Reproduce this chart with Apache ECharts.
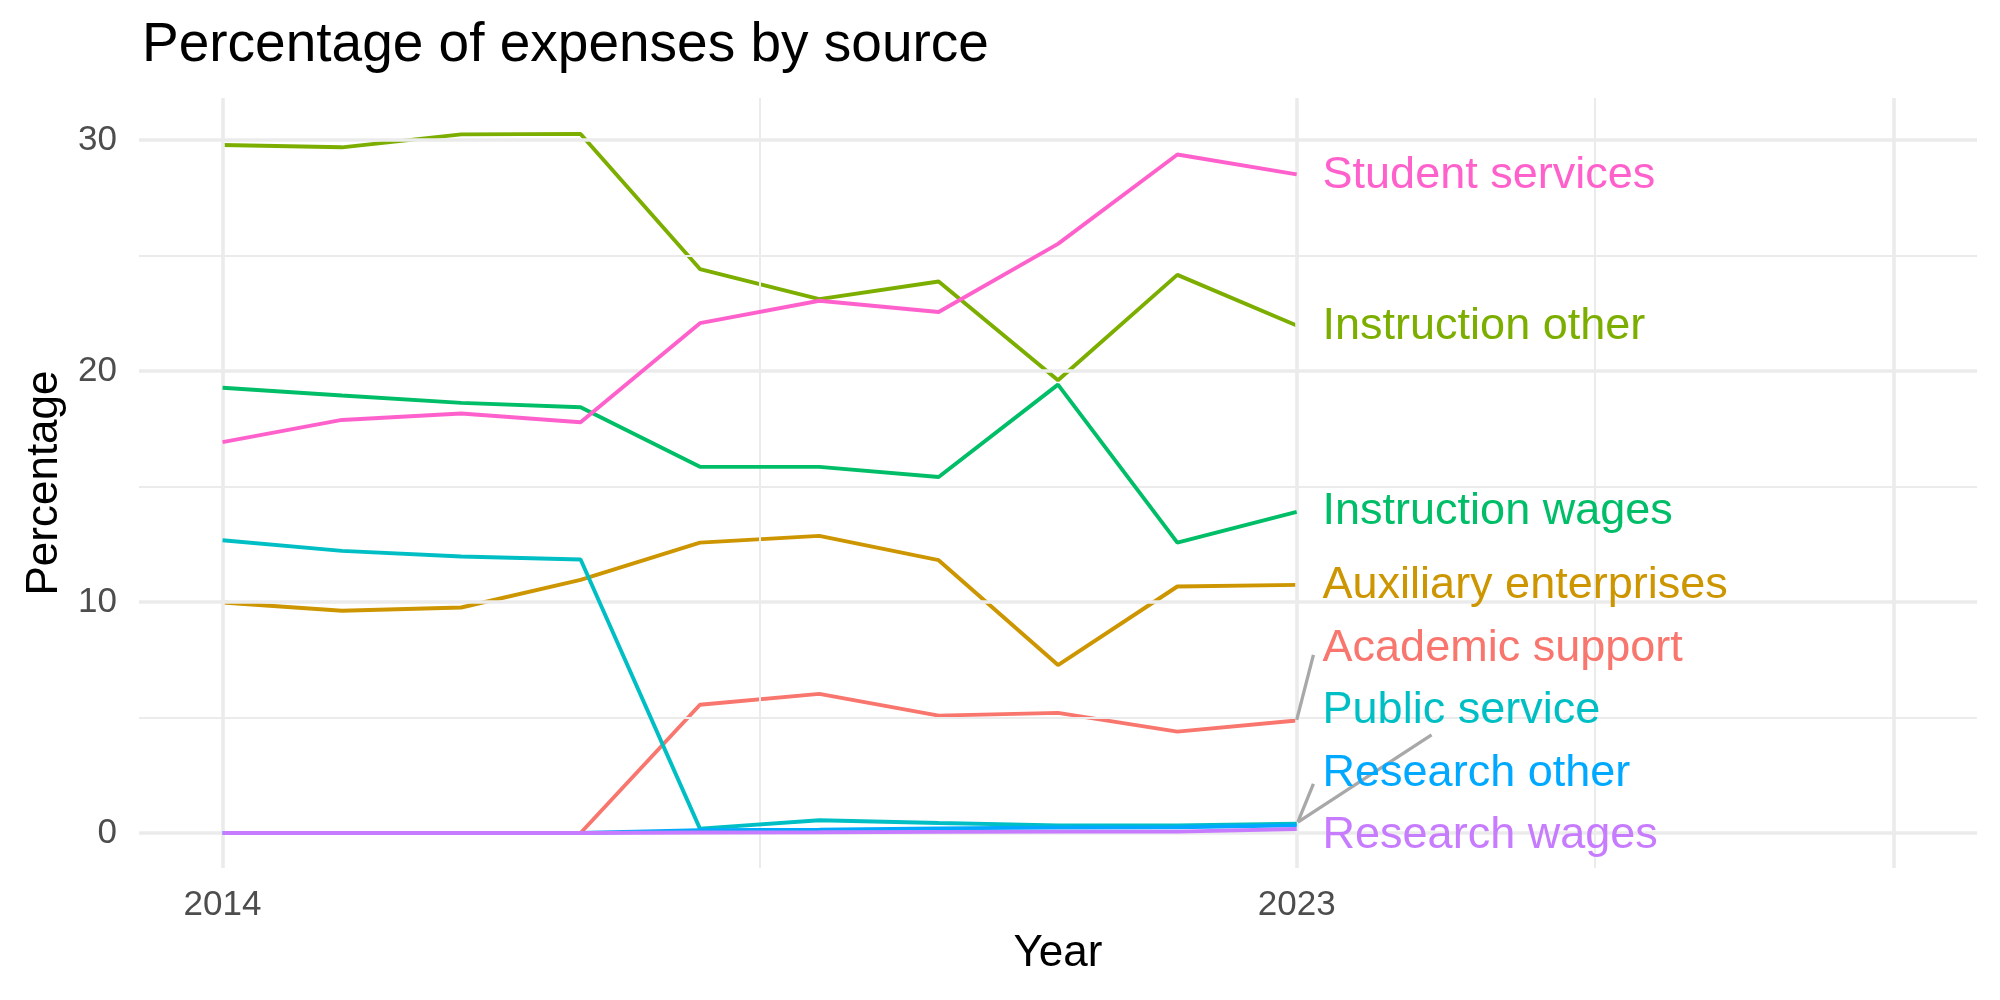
<!DOCTYPE html>
<html>
<head>
<meta charset="utf-8">
<script src="https://cdn.jsdelivr.net/npm/echarts@6/dist/echarts.min.js"></script>
<style>html,body{margin:0;padding:0;background:#fff}#c{width:2000px;height:1000px}</style>
</head>
<body>
<div id="c"></div>
<script>
const years = [2014, 2015, 2016, 2017, 2018, 2019, 2020, 2021, 2022, 2023];
const seriesNames = ['Academic support', 'Auxiliary enterprises', 'Instruction other', 'Instruction wages', 'Public service', 'Research other', 'Research wages', 'Student services'];
const academicSupport      = [0, 0, 0, 0, 5.55, 6.02, 5.08, 5.20, 4.39, 4.87];
const auxiliaryEnterprises = [9.98, 9.62, 9.76, 10.96, 12.57, 12.86, 11.81, 7.27, 10.67, 10.74];
const instructionOther     = [29.78, 29.68, 30.24, 30.26, 24.41, 23.11, 23.87, 19.60, 24.16, 21.97];
const instructionWages     = [19.27, 18.94, 18.62, 18.43, 15.85, 15.85, 15.41, 19.41, 12.57, 13.90];
const publicService        = [12.67, 12.21, 11.97, 11.84, 0.19, 0.55, 0.43, 0.33, 0.33, 0.40];
const researchOther        = [0, 0, 0, 0, 0.12, 0.14, 0.20, 0.24, 0.25, 0.33];
const researchWages        = [0, 0, 0, 0, 0.02, 0.03, 0.05, 0.06, 0.06, 0.17];
const studentServices      = [16.92, 17.88, 18.16, 17.78, 22.07, 23.04, 22.55, 25.50, 29.37, 28.51];
const colors = ['#F8766D', '#CD9600', '#7CAE00', '#00BE67', '#00BFC4', '#00A9FF', '#C77CFF', '#FF61CC'];
// repelled label anchor positions (year, value)
const labelX = 2023.2;
const labelY = [8.0, 10.7, 21.93, 13.9, 5.28, 2.55, -0.13, 28.47];
// connector segments (from line end to label)
const segAcademic = [[2023.0, 4.90], [2023.14, 7.71]];
const segPublic = [[2023.01, 0.47], [2024.13, 4.25]];
const segResearchOther = [[2023.01, 0.48], [2023.14, 2.13]];
// axis ticks / grid
const yTicks = [0, 10, 20, 30];
const yMinor = [5, 15, 25];
const xTicks = [2014, 2023];
const xMajorGrid = [2014, 2023, 2028];
const xMinorGrid = [2018.5, 2025.5];

const values = [academicSupport, auxiliaryEnterprises, instructionOther, instructionWages, publicService, researchOther, researchWages, studentServices];
const FONT = '"Liberation Sans", Arial, sans-serif';

const gridLines = [];
yTicks.forEach(v => gridLines.push({yAxis: v, lineStyle: {width: 3.6, color: '#EBEBEB', type: 'solid'}}));
yMinor.forEach(v => gridLines.push({yAxis: v, lineStyle: {width: 2, color: '#EBEBEB', type: 'solid'}}));
xMajorGrid.forEach(v => gridLines.push({xAxis: v, lineStyle: {width: 3.6, color: '#EBEBEB', type: 'solid'}}));
xMinorGrid.forEach(v => gridLines.push({xAxis: v, lineStyle: {width: 2, color: '#EBEBEB', type: 'solid'}}));

const series = [{
  type: 'line', data: [], z: 1, silent: true,
  markLine: {silent: true, symbol: ['none', 'none'], label: {show: false}, animation: false, data: gridLines}
}];
values.forEach((vals, i) => {
  series.push({
    name: seriesNames[i], type: 'line', showSymbol: false, z: 2 + i,
    data: vals.map((v, j) => [years[j], v]),
    lineStyle: {color: colors[i], width: 3.9}, itemStyle: {color: colors[i]}
  });
});
[segAcademic, segPublic, segResearchOther].forEach(seg => {
  series.push({type: 'line', showSymbol: false, z: 20, data: seg, lineStyle: {color: '#A8A8A8', width: 3.3}});
});
series.push({
  type: 'scatter', z: 30, symbolSize: 0,
  itemStyle: {opacity: 1},
  data: seriesNames.map((n, i) => ({value: [labelX, labelY[i]], name: n,
    label: {color: colors[i]}})),
  label: {show: true, position: 'right', distance: 2, formatter: p => p.name, fontSize: 45, fontFamily: FONT, opacity: 1}
});

const chart = echarts.init(document.getElementById('c'), null, {renderer: 'canvas'});
chart.setOption({
  animation: false,
  backgroundColor: '#fff',
  title: {text: 'Percentage of expenses by source', left: 137, top: 13,
    textStyle: {fontSize: 55, fontWeight: 'normal', color: '#000', fontFamily: FONT}},
  grid: {left: 139, right: 23, top: 98, bottom: 132, containLabel: false},
  xAxis: {
    type: 'value', min: 2013.3, max: 2028.7,
    name: 'Year', nameLocation: 'middle', nameGap: 64,
    nameTextStyle: {fontSize: 44, color: '#000', fontFamily: FONT},
    axisLine: {show: false}, axisTick: {show: false}, splitLine: {show: false},
    axisLabel: {customValues: xTicks, fontSize: 35, color: '#4D4D4D', margin: 20, fontFamily: FONT, formatter: v => String(v)}
  },
  yAxis: {
    type: 'value', min: -1.515, max: 31.815,
    name: 'Percentage', nameLocation: 'middle', nameGap: 72,
    nameTextStyle: {fontSize: 44, color: '#000', fontFamily: FONT},
    axisLine: {show: false}, axisTick: {show: false}, splitLine: {show: false},
    axisLabel: {customValues: yTicks, fontSize: 35, color: '#4D4D4D', margin: 22, fontFamily: FONT, formatter: v => String(v)}
  },
  series: series
});
</script>
</body>
</html>
